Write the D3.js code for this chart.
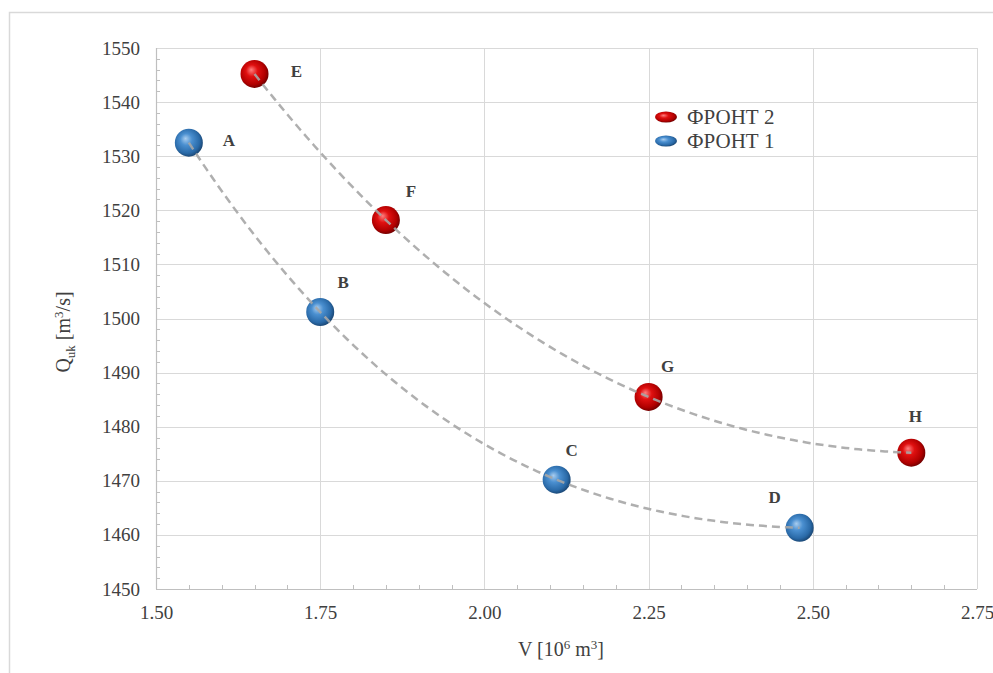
<!DOCTYPE html>
<html>
<head>
<meta charset="utf-8">
<script src="https://cdn.jsdelivr.net/npm/d3@7"></script>
<style>
  html, body { margin: 0; padding: 0; background: #fff; }
  svg { display: block; }
  text { font-family: "Liberation Serif", "Times New Roman", serif; fill: #404040; }
</style>
</head>
<body>
<svg id="chart" width="993" height="673"></svg>
<script>
// ---- data ----
const front1Labels = ["A", "B", "C", "D"];
const front1V = [1.55, 1.75, 2.11, 2.48];
const front1Q = [1532.5, 1501.2, 1470.2, 1461.3];

const front2Labels = ["E", "F", "G", "H"];
const front2V = [1.65, 1.85, 2.25, 2.65];
const front2Q = [1545.2, 1518.2, 1485.5, 1475.2];

const xTicks = [1.50, 1.75, 2.00, 2.25, 2.50, 2.75];
const yTicks = [1450, 1460, 1470, 1480, 1490, 1500, 1510, 1520, 1530, 1540, 1550];
const legendNames = ["ФРОНТ 2", "ФРОНТ 1"];

// ---- layout ----
const W = 993, H = 673;
const m = { left: 156, right: 977, top: 48, bottom: 589 };
const svg = d3.select("#chart");

const x = d3.scaleLinear().domain([1.5, 2.75]).range([m.left, m.right]);
const y = d3.scaleLinear().domain([1450, 1550]).range([m.bottom, m.top]);

// defs: sphere gradients
const defs = svg.append("defs");
function sphere(id, c0, c1, c2, c3) {
  const g = defs.append("radialGradient").attr("id", id)
    .attr("cx", "45%").attr("cy", "45%").attr("r", "60%").attr("fx", "38%").attr("fy", "35%");
  g.append("stop").attr("offset", "0%").attr("stop-color", c0);
  g.append("stop").attr("offset", "35%").attr("stop-color", c1);
  g.append("stop").attr("offset", "75%").attr("stop-color", c2);
  g.append("stop").attr("offset", "100%").attr("stop-color", c3);
}
sphere("gRed", "#ff8080", "#e01010", "#b00000", "#600000");
sphere("gBlue", "#a9cdef", "#4a8fd0", "#2a6aa8", "#163d66");

// outer frame
svg.append("rect").attr("x", 9.5).attr("y", 12.5).attr("width", W).attr("height", H)
  .attr("fill", "none").attr("stroke", "#d9d9d9").attr("stroke-width", 1.5);

// gridlines
const grid = svg.append("g");
grid.selectAll(".gx").data(xTicks.slice(1)).enter().append("line")
  .attr("x1", d => Math.round(x(d)) + 0.5).attr("x2", d => Math.round(x(d)) + 0.5)
  .attr("y1", m.top).attr("y2", m.bottom).attr("stroke", "#d9d9d9").attr("stroke-width", 1);
grid.selectAll(".gy").data(yTicks.slice(1)).enter().append("line")
  .attr("y1", d => Math.round(y(d)) + 0.5).attr("y2", d => Math.round(y(d)) + 0.5)
  .attr("x1", m.left).attr("x2", m.right).attr("stroke", "#d9d9d9").attr("stroke-width", 1);

// axes lines
svg.append("line").attr("x1", m.left + 0.5).attr("x2", m.left + 0.5).attr("y1", m.top).attr("y2", m.bottom)
  .attr("stroke", "#bfbfbf").attr("stroke-width", 1.2);
svg.append("line").attr("x1", m.left).attr("x2", m.right).attr("y1", m.bottom + 0.5).attr("y2", m.bottom + 0.5)
  .attr("stroke", "#bfbfbf").attr("stroke-width", 1.2);

// minor ticks (inside)
const xMinor = d3.range(1.55, 2.75, 0.05).filter(v => Math.abs(v / 0.25 - Math.round(v / 0.25)) > 0.01);
svg.append("g").selectAll("line").data(xMinor).enter().append("line")
  .attr("x1", d => Math.round(x(d)) + 0.5).attr("x2", d => Math.round(x(d)) + 0.5)
  .attr("y1", m.bottom).attr("y2", m.bottom - 4).attr("stroke", "#bfbfbf");
const yMinor = d3.range(1452, 1550, 2).filter(v => v % 10 !== 0);
svg.append("g").selectAll("line").data(yMinor).enter().append("line")
  .attr("y1", d => Math.round(y(d)) + 0.5).attr("y2", d => Math.round(y(d)) + 0.5)
  .attr("x1", m.left).attr("x2", m.left + 4).attr("stroke", "#bfbfbf");

// tick labels via axes
const xAxis = d3.axisBottom(x).tickValues(xTicks).tickFormat(d3.format(".2f")).tickSize(0).tickPadding(17);
const gx = svg.append("g").attr("transform", `translate(0,${m.bottom})`).call(xAxis);
gx.select(".domain").remove();
gx.selectAll("text").style("font-size", "19px").attr("fill", "#404040")
  .style("font-family", "Liberation Serif, serif");

const yAxis = d3.axisLeft(y).tickValues(yTicks).tickFormat(d3.format("d")).tickSize(0).tickPadding(16);
const gy = svg.append("g").attr("transform", `translate(${m.left},0)`).call(yAxis);
gy.select(".domain").remove();
gy.selectAll("text").style("font-size", "19px").attr("fill", "#404040")
  .style("font-family", "Liberation Serif, serif");

// axis titles
const xt = svg.append("text").attr("x", 561).attr("y", 656).attr("text-anchor", "middle")
  .style("font-size", "20px");
xt.append("tspan").text("V [10");
xt.append("tspan").text("6").attr("dy", -7).style("font-size", "13px");
xt.append("tspan").text(" m").attr("dy", 7);
xt.append("tspan").text("3").attr("dy", -7).style("font-size", "13px");
xt.append("tspan").text("]").attr("dy", 7);

const yt = svg.append("text").attr("transform", "translate(70,332) rotate(-90)")
  .attr("text-anchor", "middle").style("font-size", "20px");
yt.append("tspan").text("Q");
yt.append("tspan").text("uk").attr("dy", 5).style("font-size", "13px");
yt.append("tspan").text(" [m").attr("dy", -5);
yt.append("tspan").text("3").attr("dy", -7).style("font-size", "13px");
yt.append("tspan").text("/s]").attr("dy", 7);

// cubic polynomial through the series points (order-3 trendline)
function lagrange(xs, ys) {
  return function (t) {
    let s = 0;
    for (let i = 0; i < xs.length; i++) {
      let p = ys[i];
      for (let j = 0; j < xs.length; j++) if (j !== i) p *= (t - xs[j]) / (xs[i] - xs[j]);
      s += p;
    }
    return s;
  };
}
function trend(xs, ys) {
  const f = lagrange(xs, ys);
  const lo = d3.min(xs), hi = d3.max(xs);
  return d3.range(0, 101).map(i => { const t = lo + (hi - lo) * i / 100; return [t, f(t)]; });
}
const lineGen = d3.line().x(d => x(d[0])).y(d => y(d[1])).curve(d3.curveLinear);

// markers
function markers(vs, qs, fill) {
  svg.append("g").selectAll("circle").data(vs.map((v, i) => [v, qs[i]])).enter().append("circle")
    .attr("cx", d => x(d[0])).attr("cy", d => y(d[1])).attr("r", 14)
    .attr("fill", fill);
}
markers(front1V, front1Q, "url(#gBlue)");
markers(front2V, front2Q, "url(#gRed)");

// trendlines on top
[[front1V, front1Q], [front2V, front2Q]].forEach(([vs, qs]) => {
  svg.append("path").attr("d", lineGen(trend(vs, qs)))
    .attr("fill", "none").attr("stroke", "#a6a6a6").attr("stroke-width", 2.5)
    .attr("stroke-dasharray", "8,5").attr("opacity", 0.9);
});

// point labels
const labelOffsets = {
  A: [40, 3], B: [23, -24], C: [15, -24], D: [-25, -25],
  E: [42, 3], F: [25, -23], G: [19, -25], H: [4, -31]
};
function labels(names, vs, qs) {
  svg.append("g").selectAll("text").data(names).enter().append("text")
    .attr("x", (d, i) => x(vs[i]) + labelOffsets[d][0])
    .attr("y", (d, i) => y(qs[i]) + labelOffsets[d][1])
    .attr("text-anchor", "middle")
    .style("font-size", "17px").style("font-weight", "bold").attr("fill", "#1a1a1a")
    .text(d => d);
}
labels(front1Labels, front1V, front1Q);
labels(front2Labels, front2V, front2Q);

// legend
const legFills = ["url(#gRed)", "url(#gBlue)"];
const lg = svg.append("g").attr("transform", "translate(666,117)");
legendNames.forEach((n, i) => {
  lg.append("ellipse").attr("cx", 0).attr("cy", i * 24).attr("rx", 11).attr("ry", 5.5).attr("fill", legFills[i]);
  lg.append("text").attr("x", 21).attr("y", i * 24 + 7).style("font-size", "21px").attr("fill", "#404040").text(n);
});
</script>
</body>
</html>
